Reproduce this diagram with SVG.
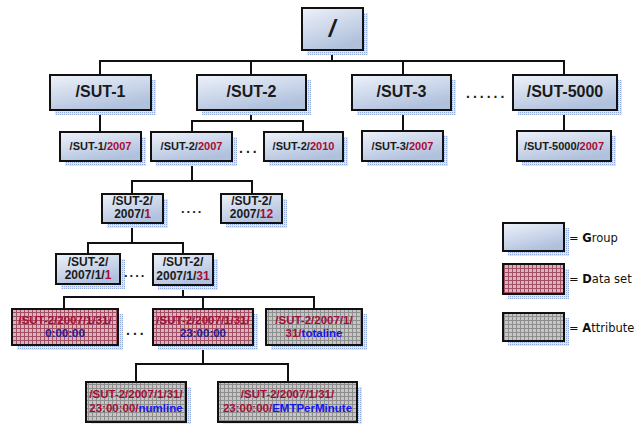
<svg xmlns="http://www.w3.org/2000/svg" width="637" height="424" viewBox="0 0 637 424">
<defs>
<linearGradient id="gg" x1="0" y1="0" x2="0.5" y2="1">
<stop offset="0" stop-color="#eef2fa"/>
<stop offset="1" stop-color="#b0c1dd"/>
</linearGradient>
<pattern id="sh" width="2" height="2" patternUnits="userSpaceOnUse">
<rect width="2" height="2" fill="#dde6f5"/>
<rect width="1" height="1" fill="#92abdc"/>
</pattern>
<pattern id="ds" width="4" height="4" patternUnits="userSpaceOnUse">
<rect width="4" height="4" fill="#d4b6bc"/>
<rect width="4" height="1" fill="#a24e64"/>
<rect width="1" height="4" fill="#a24e64"/>
</pattern>
<pattern id="at" width="4" height="4" patternUnits="userSpaceOnUse">
<rect width="4" height="4" fill="#c6c6c6"/>
<rect width="4" height="1" fill="#8e8e8e"/>
<rect width="1" height="4" fill="#8e8e8e"/>
</pattern>
</defs>
<style>
.s{fill:url(#sh)}
.g{fill:url(#gg);stroke:#111;stroke-width:2}
.d{fill:url(#ds);stroke:#111;stroke-width:2}
.a{fill:url(#at);stroke:#111;stroke-width:2}
text{font-family:"Liberation Sans",Arial,sans-serif;font-weight:bold;fill:#1a1a1a;text-anchor:middle}
.t1{font-size:16px}
.t2{font-size:11px}
.t3{font-size:12px}
.t5{font-size:11.5px}
.r{fill:#a80c36}
.n{fill:#1a1a96}
.b{fill:#1414f0}
.dot{font-size:14px;letter-spacing:3px;text-anchor:start}
.lg{font-family:"DejaVu Sans",Verdana,sans-serif;font-size:11.5px;font-weight:normal;text-anchor:start;fill:#111}
.lg tspan.k{font-weight:bold}
#conn line{stroke:#111;stroke-width:2}
</style>
<rect width="637" height="424" fill="#fff"/>
<g id="conn">
<line x1="332" y1="50" x2="332" y2="61"/>
<line x1="99" y1="61" x2="565" y2="61"/>
<line x1="100" y1="61" x2="100" y2="75"/>
<line x1="251" y1="61" x2="251" y2="75"/>
<line x1="403" y1="61" x2="403" y2="75"/>
<line x1="564" y1="61" x2="564" y2="75"/>
<line x1="100" y1="110" x2="100" y2="132"/>
<line x1="251" y1="110" x2="251" y2="121"/>
<line x1="191" y1="121" x2="304" y2="121"/>
<line x1="192" y1="121" x2="192" y2="132"/>
<line x1="303" y1="121" x2="303" y2="132"/>
<line x1="403" y1="110" x2="403" y2="131"/>
<line x1="564" y1="110" x2="564" y2="131"/>
<line x1="192" y1="161" x2="192" y2="181"/>
<line x1="131" y1="181" x2="253" y2="181"/>
<line x1="132" y1="181" x2="132" y2="194"/>
<line x1="252" y1="181" x2="252" y2="194"/>
<line x1="132" y1="223" x2="132" y2="243"/>
<line x1="87" y1="243" x2="184" y2="243"/>
<line x1="88" y1="243" x2="88" y2="254"/>
<line x1="183" y1="243" x2="183" y2="254"/>
<line x1="183" y1="285" x2="183" y2="297"/>
<line x1="63" y1="297" x2="315" y2="297"/>
<line x1="64" y1="297" x2="64" y2="309"/>
<line x1="203" y1="297" x2="203" y2="309"/>
<line x1="314" y1="297" x2="314" y2="309"/>
<line x1="203" y1="345" x2="203" y2="364"/>
<line x1="135" y1="364" x2="289" y2="364"/>
<line x1="136" y1="364" x2="136" y2="382"/>
<line x1="288" y1="364" x2="288" y2="382"/>
</g>
<g id="root"><rect class="s" x="307" y="13" width="61" height="42"/><rect class="g" x="302" y="8" width="61" height="42"/><text x="332" y="37" style="font-size:24px;font-style:italic">/</text></g>
<g id="sut1"><rect class="s" x="55" y="80" width="101" height="35"/><rect class="g" x="50" y="75" width="101" height="35"/><text class="t1" x="100.5" y="97">/SUT-1</text></g>
<g id="sut2"><rect class="s" x="202" y="80" width="109" height="35"/><rect class="g" x="197" y="75" width="109" height="35"/><text class="t1" x="251.5" y="97">/SUT-2</text></g>
<g id="sut3"><rect class="s" x="357" y="80" width="99" height="35"/><rect class="g" x="352" y="75" width="99" height="35"/><text class="t1" x="401.5" y="97">/SUT-3</text></g>
<text class="t1 dot" x="466" y="98">......</text>
<g id="sut5000"><rect class="s" x="518" y="80" width="104" height="35"/><rect class="g" x="513" y="75" width="104" height="35"/><text class="t1" x="565" y="97">/SUT-5000</text></g>
<g id="sut1-2007"><rect class="s" x="65" y="137" width="81" height="29"/><rect class="g" x="60" y="132" width="81" height="29"/><text class="t2" x="100.5" y="150">/SUT-1/<tspan class="r">2007</tspan></text></g>
<g id="sut2-2007"><rect class="s" x="156" y="137" width="81" height="29"/><rect class="g" x="151" y="132" width="81" height="29"/><text class="t2" x="191.5" y="150">/SUT-2/<tspan class="r">2007</tspan></text></g>
<text class="dot" x="239" y="153">...</text>
<g id="sut2-2010"><rect class="s" x="269" y="137" width="79" height="29"/><rect class="g" x="264" y="132" width="79" height="29"/><text class="t2" x="303.5" y="150">/SUT-2/<tspan class="r">2010</tspan></text></g>
<g id="sut3-2007"><rect class="s" x="367" y="136" width="81" height="30"/><rect class="g" x="362" y="131" width="81" height="30"/><text class="t2" x="402.5" y="150">/SUT-3/<tspan class="r">2007</tspan></text></g>
<g id="sut5000-2007"><rect class="s" x="522" y="136" width="94" height="30"/><rect class="g" x="517" y="131" width="94" height="30"/><text class="t2" x="564" y="150">/SUT-5000/<tspan class="r">2007</tspan></text></g>
<g id="m1"><rect class="s" x="107" y="199" width="61" height="29"/><rect class="g" x="102" y="194" width="61" height="29"/><text class="t3" x="132.5" y="205">/SUT-2/</text><text class="t3" x="132.5" y="218">2007/<tspan class="r">1</tspan></text></g>
<text class="dot" x="181" y="213" style="font-size:13px;letter-spacing:2px">....</text>
<g id="m12"><rect class="s" x="226" y="199" width="61" height="29"/><rect class="g" x="221" y="194" width="61" height="29"/><text class="t3" x="251.5" y="205">/SUT-2/</text><text class="t3" x="251.5" y="218">2007/<tspan class="r">12</tspan></text></g>
<g id="d1"><rect class="s" x="61" y="259" width="64" height="30"/><rect class="g" x="56" y="254" width="64" height="30"/><text class="t3" x="88" y="266">/SUT-2/</text><text class="t3" x="88" y="279">2007/1/<tspan class="r">1</tspan></text></g>
<text class="dot" x="124" y="277" style="font-size:13px;letter-spacing:2px">....</text>
<g id="d31"><rect class="s" x="158" y="259" width="60" height="31"/><rect class="g" x="153" y="254" width="60" height="31"/><text class="t3" x="183" y="266">/SUT-2/</text><text class="t3" x="183" y="280">2007/1/<tspan class="r">31</tspan></text></g>
<g id="h0"><rect class="s" x="17" y="314" width="106" height="36"/><rect class="d" x="12" y="309" width="106" height="36"/><text class="t5 r" x="65" y="324">/SUT-2/2007/1/31/</text><text class="t5 n" x="65" y="337">0:00:00</text></g>
<text class="dot" x="126" y="335">...</text>
<g id="h23"><rect class="s" x="158" y="314" width="100" height="36"/><rect class="d" x="153" y="309" width="100" height="36"/><text class="t5 r" x="203" y="324">/SUT-2/2007/1/31/</text><text class="t5 n" x="203" y="337">23:00:00</text></g>
<g id="totaline"><rect class="s" x="271" y="314" width="96" height="36"/><rect class="a" x="266" y="309" width="96" height="36"/><text class="t5 r" x="314" y="324">/SUT-2/2007/1/</text><text class="t5 r" x="314" y="337">31/<tspan class="b">totaline</tspan></text></g>
<g id="numline"><rect class="s" x="91" y="387" width="100" height="40"/><rect class="a" x="86" y="382" width="100" height="40"/><text class="t5 r" x="136" y="398">/SUT-2/2007/1/31/</text><text class="t5 r" x="136" y="412">23:00:00/<tspan class="b">numline</tspan></text></g>
<g id="emt"><rect class="s" x="223" y="387" width="139" height="40"/><rect class="a" x="218" y="382" width="139" height="40"/><text class="t5 r" x="287.5" y="398">/SUT-2/2007/1/31/</text><text class="t5 r" x="287.5" y="412">23:00:00/<tspan class="b">EMTPerMinute</tspan></text></g>
<g id="legend-group"><rect class="s" x="508" y="228" width="61" height="28"/><rect class="g" x="503" y="223" width="61" height="28"/><text class="lg" x="569" y="242">= <tspan class="k">G</tspan>roup</text></g>
<g id="legend-dataset"><rect class="s" x="508" y="269" width="61" height="30"/><rect class="d" x="503" y="264" width="61" height="30"/><text class="lg" x="569" y="283">= <tspan class="k">D</tspan>ata set</text></g>
<g id="legend-attribute"><rect class="s" x="508" y="318" width="61" height="28"/><rect class="a" x="503" y="313" width="61" height="28"/><text class="lg" x="569" y="332">= <tspan class="k">A</tspan>ttribute</text></g>
</svg>
